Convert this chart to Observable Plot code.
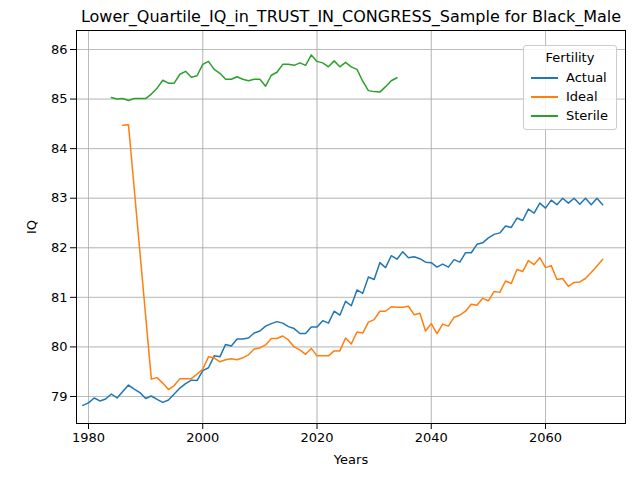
<!DOCTYPE html>
<html>
<head>
<meta charset="utf-8">
<script src="https://cdn.jsdelivr.net/npm/d3@7"></script>
<script src="https://cdn.jsdelivr.net/npm/@observablehq/plot@0.6"></script>
<style>
  body { margin: 0; font-family: "DejaVu Sans", sans-serif; background: white; }
  #wrap { position: relative; width: 640px; height: 480px; }
  #legend { position: absolute; left: 523px; top: 45px; width: 92px; padding: 4px 0 4px 0;
    border: 1px solid #ccc; border-radius: 3px; background: rgba(255,255,255,0.85); font-size: 13px; }
  #legend .t { text-align: center; margin-bottom: 3px; }
  #legend .r { display: flex; align-items: center; height: 19px; padding-left: 7px; }
  #legend .sw { width: 27px; height: 2px; margin-right: 8px; }
</style>
</head>
<body>
<div id="wrap"><div id="chart"></div><div id="legend"></div></div>
<script>
// Actual: 1979-2070
const actualStart = 1979
const actual = [78.82,78.87,78.97,78.91,78.95,79.05,78.97,79.1,79.23,79.15,79.08,78.96,79.01,78.94,78.88,78.93,79.05,79.17,79.26,79.33,79.32,79.52,79.58,79.82,79.8,80.05,80.02,80.16,80.16,80.18,80.28,80.32,80.42,80.47,80.51,80.48,80.41,80.37,80.27,80.27,80.4,80.4,80.53,80.48,80.72,80.64,80.92,80.83,81.15,81.08,81.41,81.36,81.7,81.6,81.84,81.77,81.92,81.8,81.82,81.78,81.71,81.7,81.61,81.67,81.61,81.76,81.71,81.9,81.9,82.07,82.1,82.2,82.27,82.3,82.44,82.41,82.6,82.55,82.78,82.7,82.9,82.8,82.96,82.87,83.0,82.9,83.0,82.88,83.0,82.87,83.0,82.87]

// Ideal: years listed explicitly (gap 1989-1990)
const idealYears = [1986,1987,1991].concat(d3.range(1992, 2071))
const ideal = [84.47,84.48,79.35,79.38,79.27,79.14,79.22,79.36,79.36,79.36,79.45,79.55,79.8,79.78,79.7,79.74,79.76,79.74,79.78,79.84,79.96,79.98,80.04,80.17,80.17,80.22,80.14,80.0,79.94,79.85,79.97,79.82,79.82,79.82,79.92,79.92,80.18,80.06,80.3,80.28,80.5,80.55,80.72,80.72,80.81,80.8,80.8,80.82,80.65,80.68,80.32,80.47,80.27,80.46,80.42,80.6,80.64,80.72,80.86,80.84,80.98,80.93,81.12,81.1,81.33,81.28,81.56,81.52,81.74,81.66,81.8,81.6,81.64,81.36,81.38,81.22,81.3,81.31,81.38,81.5,81.63,81.77]

// Sterile: 1984-2034
const sterileStart = 1984
const sterile = [85.03,85.0,85.01,84.97,85.01,85.01,85.01,85.1,85.22,85.38,85.32,85.32,85.5,85.56,85.44,85.47,85.7,85.76,85.6,85.52,85.4,85.4,85.45,85.4,85.37,85.4,85.4,85.26,85.48,85.54,85.7,85.7,85.68,85.73,85.68,85.89,85.76,85.73,85.65,85.77,85.65,85.74,85.65,85.6,85.36,85.17,85.15,85.14,85.25,85.37,85.43]

const series = ["Actual", "Ideal", "Sterile"]
const colors = ["#1f77b4", "#ff7f0e", "#2ca02c"]
const xTicks = [1980, 2000, 2020, 2040, 2060]
const yTicks = [79, 80, 81, 82, 83, 84, 85, 86]

const rows = [
  ...actual.map((v, i) => ({year: actualStart + i, iq: v, s: "Actual"})),
  ...ideal.map((v, i) => ({year: idealYears[i], iq: v, s: "Ideal"})),
  ...sterile.map((v, i) => ({year: sterileStart + i, iq: v, s: "Sterile"}))
]

let chart = Plot.plot({
  width: 640,
  height: 480,
  marginTop: 30,
  marginBottom: 57,
  marginLeft: 76,
  marginRight: 15,
  style: {fontFamily: "DejaVu Sans, sans-serif", fontSize: "12px", color: "black"},
  x: {domain: [1977.9, 2074.0], ticks: xTicks, tickFormat: d3.format("d"), label: "Years", labelAnchor: "center", labelArrow: "none", grid: true, tickSize: 4},
  y: {domain: [78.455, 86.383], ticks: yTicks, label: "IQ", labelAnchor: "center", labelArrow: "none", grid: true, tickSize: 4},
  color: {domain: series, range: colors},
  marks: [
    Plot.gridX(xTicks, {stroke: "#b0b0b0", strokeOpacity: 1, strokeWidth: 0.8}),
    Plot.gridY(yTicks, {stroke: "#b0b0b0", strokeOpacity: 1, strokeWidth: 0.8}),
    Plot.lineY(rows, {x: "year", y: "iq", stroke: "s", z: "s", strokeWidth: 1.5}),
    Plot.frame({stroke: "black", strokeWidth: 1}),
    Plot.axisX({ticks: xTicks, tickFormat: d3.format("d"), label: "Years", labelAnchor: "center", labelArrow: "none", labelOffset: 40, fontSize: 13}),
    Plot.axisY({ticks: yTicks, label: "IQ", labelAnchor: "center", labelArrow: "none", labelOffset: 50, fontSize: 13}),
    Plot.text(["Lower_Quartile_IQ_in_TRUST_IN_CONGRESS_Sample for Black_Male"], {frameAnchor: "top", dy: -20, fontSize: 16, text: d => d})
  ]
})
d3.select("#chart").append(() => chart)

const lg = d3.select("#legend")
lg.append("div").attr("class", "t").text("Fertility")
series.forEach((s, i) => {
  const r = lg.append("div").attr("class", "r")
  r.append("div").attr("class", "sw").style("background", colors[i])
  r.append("span").text(s)
})
</script>
</body>
</html>
